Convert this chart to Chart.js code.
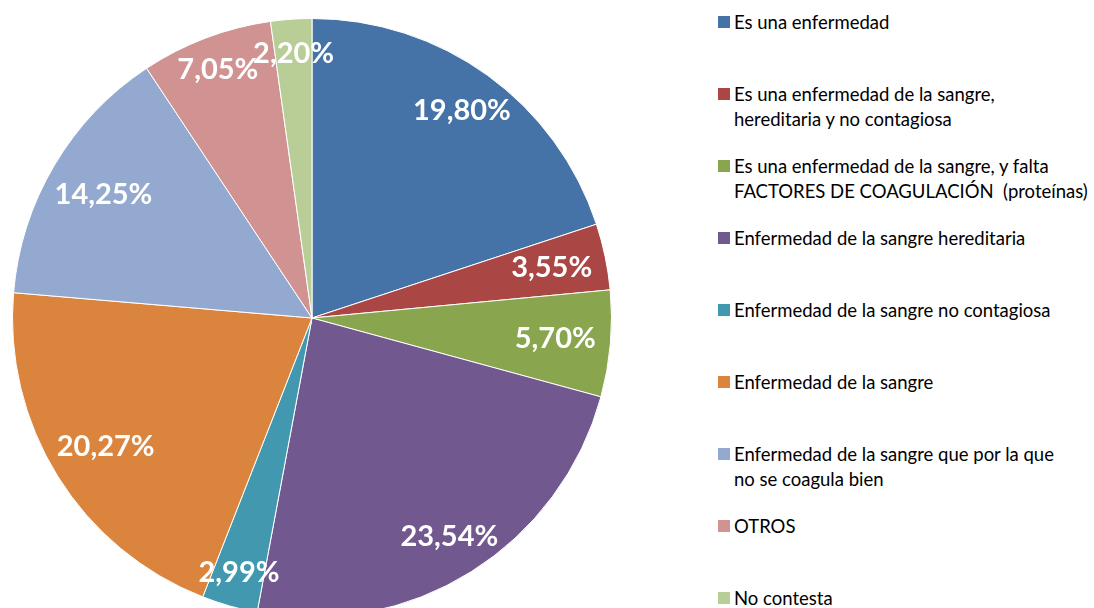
<!DOCTYPE html>
<html>
<head>
<meta charset="utf-8">
<script src="https://cdn.jsdelivr.net/npm/chart.js@4/dist/chart.umd.min.js"></script>
<style>
  html, body { margin: 0; padding: 0; width: 1094px; height: 608px; overflow: hidden; background: #fff; }
  #pie { position: absolute; left: 0; top: 0; }
  #legend { position: absolute; left: 718px; top: 0; font-family: Lato, "Open Sans", sans-serif; font-size: 18.5px; color: #000; }
  .item { position: absolute; left: 0; white-space: pre; line-height: 25px; }
  .box { position: absolute; left: 0; top: 6px; width: 12px; height: 12px; }
  .txt { position: absolute; left: 16px; top: 0; }
</style>
</head>
<body>
<canvas id="pie" width="624" height="636"></canvas>
<div id="legend"></div>
<script>
// data
const labels = [
  ['Es una enfermedad'],
  ['Es una enfermedad de la sangre,', 'hereditaria y no contagiosa'],
  ['Es una enfermedad de la sangre, y falta', 'FACTORES DE COAGULACIÓN  (proteínas)'],
  ['Enfermedad de la sangre hereditaria'],
  ['Enfermedad de la sangre no contagiosa'],
  ['Enfermedad de la sangre'],
  ['Enfermedad de la sangre que por la que', 'no se coagula bien'],
  ['OTROS'],
  ['No contesta']
]
const values = [19.80, 3.55, 5.70, 23.54, 2.99, 20.27, 14.25, 7.05, 2.20]
const colors = ['#4572A7', '#AA4643', '#89A54E', '#71588F', '#4198AF', '#DB843D', '#93A9CF', '#D19392', '#B9CD96']

const fmt = (v) => v.toFixed(2).replace('.', ',') + '%'

// white % labels placed just inside the edge of each slice
const sliceLabels = {
  id: 'sliceLabels',
  afterDatasetsDraw(chart) {
    const ctx = chart.ctx
    const meta = chart.getDatasetMeta(0)
    ctx.save()
    ctx.font = 'bold 29px Lato, "Open Sans", sans-serif'
    ctx.fillStyle = '#fff'
    ctx.textAlign = 'center'
    ctx.textBaseline = 'middle'
    meta.data.forEach((arc, i) => {
      const p = arc.getProps(['x', 'y', 'startAngle', 'endAngle', 'outerRadius'], true)
      const mid = (p.startAngle + p.endAngle) / 2
      const ux = Math.cos(mid)
      const uy = Math.sin(mid)
      const text = fmt(values[i])
      const w = ctx.measureText(text).width
      const ext = Math.max(Math.abs(ux) * w / 2, Math.abs(uy) * 20)
      const d = p.outerRadius - 15 - ext
      ctx.fillText(text, p.x + ux * d, p.y + uy * d)
    })
    ctx.restore()
  }
}

new Chart(document.getElementById('pie'), {
  type: 'pie',
  data: {
    labels: labels,
    datasets: [{
      data: values,
      backgroundColor: colors,
      borderColor: '#fff',
      borderWidth: 1
    }]
  },
  options: {
    responsive: false,
    animation: false,
    layout: { padding: { left: 12, right: 12, top: 18, bottom: 18 } },
    plugins: {
      legend: { display: false },
      tooltip: { enabled: false }
    }
  },
  plugins: [sliceLabels]
})

// legend on the right
const legend = document.getElementById('legend')
labels.forEach((lines, i) => {
  const item = document.createElement('div')
  item.className = 'item'
  item.style.top = (9.5 + i * 72.1) + 'px'
  const box = document.createElement('div')
  box.className = 'box'
  box.style.background = colors[i]
  const txt = document.createElement('div')
  txt.className = 'txt'
  txt.textContent = lines.join('\n')
  item.appendChild(box)
  item.appendChild(txt)
  legend.appendChild(item)
})
</script>
</body>
</html>
